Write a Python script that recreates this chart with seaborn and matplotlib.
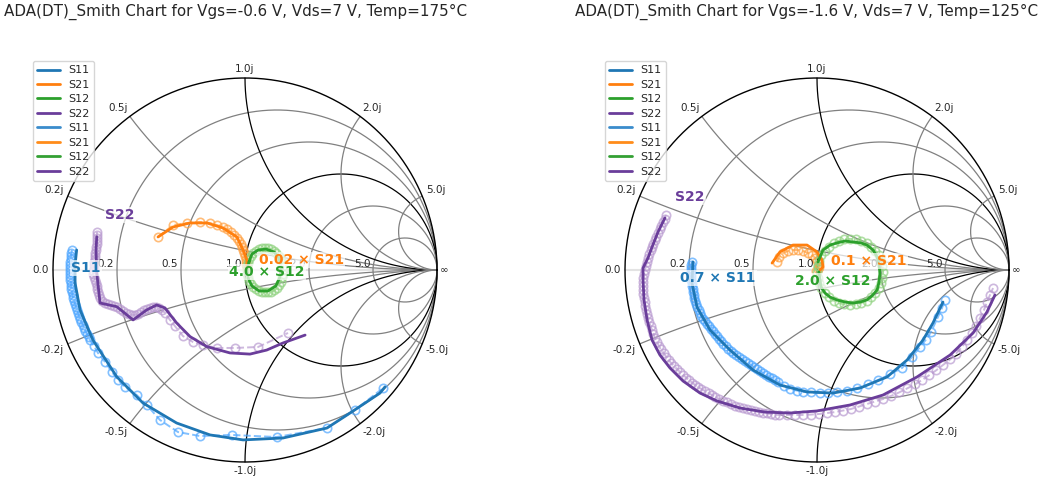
import numpy as np
import matplotlib
matplotlib.use("Agg")
import matplotlib.pyplot as plt
from matplotlib.lines import Line2D
import seaborn as sns

sns.set_style("white")

# smith grid values
r_vals = [0.2, 0.5, 1.0, 2.0, 5.0]
x_vals = [0.2, 0.5, 1.0, 2.0, 5.0]

titles = ["ADA(DT)_Smith Chart for Vgs=-0.6 V, Vds=7 V, Temp=175°C",
          "ADA(DT)_Smith Chart for Vgs=-1.6 V, Vds=7 V, Temp=125°C"]
param_names = ["S11", "S21", "S12", "S22"]

# ---- left chart (Vgs=-0.6 V) ; values as plotted (already scaled) ----
l_s11_mod_re = [-0.877, -0.885, -0.885, -0.859, -0.792, -0.668, -0.531, -0.356, -0.182, -0.010, 0.198, 0.427, 0.547, 0.703, 0.729]
l_s11_mod_im = [0.104, 0.026, -0.068, -0.208, -0.365, -0.556, -0.693, -0.797, -0.859, -0.885, -0.875, -0.823, -0.745, -0.641, -0.609]
l_s11_meas_re = [-0.901, -0.904, -0.906, -0.906, -0.909, -0.909, -0.911, -0.911, -0.911, -0.909, -0.909, -0.906, -0.906, -0.904,
                 -0.901, -0.898, -0.896, -0.891, -0.885, -0.880, -0.875, -0.870, -0.865, -0.859, -0.852, -0.844, -0.839, -0.831,
                 -0.823, -0.815, -0.807, -0.786,
                 -0.766, -0.729, -0.694, -0.661, -0.625, -0.564, -0.512, -0.443, -0.349, -0.234, -0.069, 0.165, 0.426, 0.573, 0.719]
l_s11_meas_im = [0.104, 0.089, 0.073, 0.057, 0.042, 0.026, 0.010, -0.005, -0.021, -0.036, -0.052, -0.068, -0.083, -0.099,
                 -0.115, -0.130, -0.146, -0.161, -0.177, -0.193, -0.208, -0.224, -0.240, -0.255, -0.271, -0.286, -0.302, -0.318,
                 -0.333, -0.349, -0.365, -0.396,
                 -0.432, -0.479, -0.530, -0.573, -0.609, -0.651, -0.703, -0.781, -0.844, -0.865, -0.859, -0.870, -0.823, -0.729, -0.615]

l_s21_mod_re = [-0.453, -0.375, -0.286, -0.198, -0.115, -0.042, -0.010, 0.010, 0.010]
l_s21_mod_im = [0.172, 0.224, 0.245, 0.245, 0.219, 0.172, 0.104, 0.052, 0.0]
l_s21_meas_re = [-0.453, -0.375, -0.302, -0.234, -0.182, -0.146, -0.115, -0.094, -0.073, -0.057, -0.042, -0.031, -0.021, -0.016,
                 -0.010, -0.005, 0.0, 0.005, 0.005, 0.005, 0.010]
l_s21_meas_im = [0.172, 0.234, 0.245, 0.250, 0.245, 0.234, 0.224, 0.214, 0.198, 0.182, 0.167, 0.151, 0.135, 0.120,
                 0.104, 0.089, 0.073, 0.057, 0.042, 0.026, 0.010]

l_s12_mod_re = [0.021, 0.036, 0.068, 0.109, 0.151, 0.177, 0.188, 0.182, 0.161, 0.120, 0.073, 0.036, 0.016, 0.010, 0.021]
l_s12_mod_im = [0.042, 0.083, 0.104, 0.109, 0.094, 0.063, 0.016, -0.036, -0.083, -0.109, -0.109, -0.083, -0.042, 0.0, 0.042]
l_s12_meas_re = [0.010, 0.011, 0.016, 0.023, 0.032, 0.044, 0.057, 0.072, 0.088, 0.104, 0.120, 0.136, 0.151, 0.164, 0.176, 0.185,
                 0.192, 0.197, 0.198, 0.197, 0.192, 0.185, 0.176, 0.166, 0.153, 0.138, 0.120, 0.104, 0.088, 0.072, 0.057,
                 0.044, 0.032, 0.023, 0.016, 0.011]
l_s12_meas_im = [0.000, 0.020, 0.039, 0.058, 0.074, 0.088, 0.100, 0.108, 0.113, 0.115, 0.113, 0.108, 0.100, 0.088, 0.074, 0.058,
                 0.039, 0.020, 0.000, -0.020, -0.039, -0.060, -0.078, -0.094, -0.106, -0.113, -0.116, -0.115, -0.113, -0.108, -0.100,
                 -0.088, -0.074, -0.058, -0.039, -0.020]

l_s22_mod_re = [-0.772, -0.776, -0.772, -0.755, -0.668, -0.583, -0.512, -0.460, -0.417, -0.356, -0.286, -0.199, -0.078, 0.026, 0.113, 0.198, 0.313]
l_s22_mod_im = [0.173, 0.104, -0.016, -0.172, -0.191, -0.260, -0.208, -0.182, -0.198, -0.276, -0.347, -0.399, -0.432, -0.438, -0.417, -0.380, -0.339]
l_s22_meas_re = [-0.771, -0.771, -0.771, -0.771, -0.773, -0.776, -0.776, -0.779, -0.781, -0.781, -0.784, -0.786, -0.789, -0.792,
                 -0.792, -0.786, -0.781, -0.776, -0.773, -0.771, -0.766, -0.760, -0.755, -0.745, -0.729, -0.714, -0.698, -0.682,
                 -0.667, -0.651, -0.635, -0.620, -0.604, -0.589, -0.573, -0.557, -0.542, -0.526, -0.510, -0.495, -0.479, -0.464,
                 -0.448, -0.432,
                 -0.417, -0.391, -0.365, -0.323, -0.271, -0.219, -0.146, -0.052, 0.068, 0.224]
l_s22_meas_im = [0.198, 0.182, 0.167, 0.151, 0.135, 0.120, 0.104, 0.089, 0.073, 0.057, 0.042, 0.026, 0.010, -0.005,
                 -0.021, -0.036, -0.052, -0.068, -0.083, -0.099, -0.115, -0.130, -0.146, -0.161, -0.172, -0.177, -0.182, -0.188,
                 -0.193, -0.203, -0.214, -0.224, -0.229, -0.234, -0.234, -0.229, -0.219, -0.208, -0.203, -0.198, -0.193, -0.193,
                 -0.198, -0.208,
                 -0.224, -0.260, -0.292, -0.344, -0.375, -0.391, -0.406, -0.406, -0.401, -0.328]

# ---- right chart (Vgs=-1.6 V) ----
r_s11_mod_re = [-0.646, -0.651, -0.625, -0.557, -0.453, -0.333, -0.193, -0.052, 0.083, 0.224, 0.365, 0.469, 0.552, 0.604, 0.656]
r_s11_mod_im = [0.042, -0.068, -0.193, -0.313, -0.417, -0.521, -0.599, -0.635, -0.641, -0.615, -0.557, -0.469, -0.365, -0.276, -0.167]
r_s11_meas_re = [-0.651, -0.656, -0.656, -0.656, -0.656, -0.656, -0.654, -0.651, -0.651, -0.648, -0.646, -0.643, -0.641, -0.635,
                 -0.630, -0.625, -0.617, -0.609, -0.602, -0.594, -0.583, -0.573, -0.563, -0.552, -0.542, -0.531, -0.521, -0.510,
                 -0.500, -0.487, -0.474, -0.461, -0.448, -0.435, -0.422, -0.406, -0.391, -0.375, -0.359, -0.344, -0.328, -0.313,
                 -0.297, -0.281, -0.266, -0.250, -0.234, -0.219, -0.203,
                 -0.172, -0.141, -0.104, -0.073, -0.031, 0.016, 0.057, 0.104, 0.156, 0.208, 0.266, 0.318, 0.380, 0.443, 0.495,
                 0.536, 0.568, 0.594, 0.630, 0.651, 0.667]
r_s11_meas_im = [0.042, 0.026, 0.010, -0.005, -0.021, -0.036, -0.052, -0.068, -0.083, -0.099, -0.115, -0.130, -0.146, -0.161,
                 -0.177, -0.193, -0.208, -0.224, -0.240, -0.253, -0.266, -0.279, -0.292, -0.305, -0.318, -0.331, -0.344, -0.357,
                 -0.370, -0.383, -0.396, -0.409, -0.422, -0.432, -0.443, -0.453, -0.464, -0.474, -0.484, -0.495, -0.505, -0.516,
                 -0.526, -0.536, -0.547, -0.557, -0.565, -0.573, -0.581,
                 -0.602, -0.620, -0.628, -0.635, -0.638, -0.641, -0.641, -0.635, -0.628, -0.615, -0.596, -0.573, -0.544, -0.510, -0.453,
                 -0.401, -0.362, -0.323, -0.245, -0.198, -0.156]

r_s21_mod_re = [-0.234, -0.193, -0.125, -0.052, 0.0, 0.026, 0.031, 0.016]
r_s21_mod_im = [0.036, 0.094, 0.130, 0.130, 0.094, 0.052, 0.016, 0.0]
r_s21_meas_re = [-0.208, -0.198, -0.177, -0.151, -0.125, -0.099, -0.073, -0.047, -0.026, -0.010, 0.0, 0.010, 0.010, 0.005, -0.005]
r_s21_meas_im = [0.042, 0.068, 0.089, 0.099, 0.104, 0.104, 0.099, 0.089, 0.078, 0.063, 0.047, 0.031, 0.016, 0.005, -0.005]

r_s12_mod_re = [0.005, 0.031, 0.068, 0.104, 0.146, 0.188, 0.229, 0.260, 0.292, 0.313, 0.323, 0.328, 0.323, 0.313, 0.286, 0.260,
                0.224, 0.188, 0.146, 0.104, 0.068, 0.042, 0.021, 0.016, 0.010]
r_s12_mod_im = [0.042, 0.104, 0.130, 0.141, 0.151, 0.146, 0.141, 0.130, 0.104, 0.068, 0.026, -0.016, -0.063, -0.104, -0.135, -0.156,
                -0.167, -0.172, -0.167, -0.156, -0.141, -0.120, -0.089, -0.052, -0.010]
r_s12_meas_re = [0.003, 0.010, 0.023, 0.040, 0.061, 0.086, 0.113, 0.142, 0.172, 0.202, 0.231, 0.258, 0.283, 0.304, 0.321, 0.334,
                 0.341, 0.344, 0.341, 0.334, 0.321, 0.304, 0.283, 0.258, 0.231, 0.202, 0.172, 0.142, 0.113, 0.086, 0.061,
                 0.040, 0.023, 0.010, 0.003, 0.0, 0.003]
r_s12_meas_im = [0.020, 0.049, 0.076, 0.101, 0.122, 0.139, 0.152, 0.159, 0.162, 0.159, 0.152, 0.139, 0.122, 0.101, 0.076, 0.049,
                 0.020, -0.010, -0.040, -0.069, -0.096, -0.121, -0.142, -0.159, -0.172, -0.179, -0.182, -0.179, -0.172, -0.159, -0.142,
                 -0.121, -0.096, -0.069, -0.040, -0.010, 0.020]

r_s22_mod_re = [-0.792, -0.828, -0.859, -0.880, -0.896, -0.906, -0.906, -0.901, -0.885, -0.859, -0.818, -0.766, -0.698, -0.609,
                -0.521, -0.401, -0.271, -0.141, 0.0, 0.172, 0.344, 0.521, 0.693, 0.813, 0.885, 0.927]
r_s22_mod_im = [0.271, 0.198, 0.120, 0.063, 0.031, 0.010, -0.052, -0.156, -0.260, -0.365, -0.443, -0.510, -0.578, -0.641,
                -0.682, -0.719, -0.740, -0.745, -0.734, -0.703, -0.651, -0.557, -0.443, -0.328, -0.219, -0.130]
r_s22_meas_re = [-0.786, -0.794, -0.802, -0.813, -0.820, -0.828, -0.836, -0.844, -0.852, -0.859,
                 -0.867, -0.875, -0.880, -0.885, -0.891, -0.896, -0.901, -0.904, -0.906, -0.906,
                 -0.906, -0.904, -0.901, -0.898, -0.896, -0.891, -0.885, -0.880, -0.875, -0.867,
                 -0.859, -0.852, -0.844, -0.833, -0.823, -0.813, -0.799, -0.786, -0.773, -0.760,
                 -0.745, -0.729, -0.714, -0.698, -0.682, -0.667, -0.651, -0.635, -0.620, -0.602,
                 -0.583, -0.565, -0.547, -0.529, -0.510, -0.490, -0.469, -0.448, -0.427, -0.406,
                 -0.385, -0.365, -0.344, -0.323, -0.302, -0.281, -0.260, -0.240, -0.219, -0.198,
                 -0.156, -0.115, -0.073, -0.031, 0.010, 0.052, 0.094, 0.135, 0.177, 0.219,
                 0.260, 0.302, 0.344, 0.385, 0.427, 0.469, 0.510, 0.547, 0.583, 0.620,
                 0.656, 0.693, 0.724, 0.755, 0.781, 0.807, 0.828, 0.849, 0.870, 0.885, 0.901, 0.917]
r_s22_meas_im = [0.286, 0.268, 0.250, 0.229, 0.211, 0.193, 0.174, 0.156, 0.138, 0.120,
                 0.102, 0.083, 0.063, 0.042, 0.021, 0.0, -0.021, -0.042, -0.063, -0.083,
                 -0.104, -0.125, -0.146, -0.167, -0.188, -0.208, -0.229, -0.250, -0.271, -0.292,
                 -0.313, -0.333, -0.354, -0.375, -0.396, -0.414, -0.432, -0.451, -0.469, -0.484,
                 -0.500, -0.516, -0.531, -0.547, -0.560, -0.573, -0.586, -0.599, -0.609, -0.620,
                 -0.630, -0.641, -0.651, -0.661, -0.672, -0.682, -0.690, -0.698, -0.706, -0.714,
                 -0.719, -0.724, -0.729, -0.734, -0.740, -0.745, -0.747, -0.750, -0.753, -0.755,
                 -0.755, -0.755, -0.755, -0.753, -0.750, -0.745, -0.740, -0.732, -0.724, -0.711,
                 -0.698, -0.685, -0.672, -0.656, -0.638, -0.617, -0.596, -0.573, -0.549, -0.523,
                 -0.495, -0.466, -0.435, -0.401, -0.365, -0.328, -0.292, -0.250, -0.208, -0.167, -0.130, -0.094]

# trace labels: text and where it sits on the chart
l_labels = [("S11", -0.828, 0.010), ("0.02 × S21", 0.292, 0.052), ("4.0 × S12", 0.115, -0.010), ("S22", -0.651, 0.286)]
r_labels = [("0.7 × S11", -0.516, -0.042), ("0.1 × S21", 0.271, 0.047), ("2.0 × S12", 0.083, -0.057), ("S22", -0.661, 0.380)]

model_cols = ["#1f77b4", "#ff7f0e", "#2ca02c", "#6a3d9a"]
meas_cols = ["#4da6ff", "#ffa040", "#8fd27f", "#b99ad0"]
legend_cols2 = ["#3a8ccc", "#ff8c1a", "#33a033", "#6a3d9a"]


def draw_grid(ax):
    t = np.linspace(0, 2 * np.pi, 500)
    ax.plot([-1, 1], [0, 0], color="#e3e3e3", lw=1.5, zorder=0)
    for r in r_vals:
        c, rad = r / (1 + r), 1 / (1 + r)
        ax.plot(c + rad * np.cos(t), rad * np.sin(t), color="black" if r == 1 else "gray", lw=0.9, zorder=1)
    rr = np.concatenate([[0], np.logspace(-3, 4, 800)])
    for x in x_vals:
        for s in (1, -1):
            g = (rr + 1j * s * x - 1) / (rr + 1j * s * x + 1)
            ax.plot(g.real, g.imag, color="black" if x == 1 else "gray", lw=0.9, zorder=1)
    ax.plot(np.cos(t), np.sin(t), color="black", lw=1, zorder=1)
    # labels on the real axis
    for r in r_vals:
        g = (r - 1) / (r + 1)
        ax.annotate(f"{r:.1f}", (g, 0), xytext=(-2, 0.5), textcoords="offset points",
                    ha="right", va="bottom", fontsize=7.5)
    ax.annotate("0.0", (-1, 0), xytext=(-3, 0), textcoords="offset points", ha="right", va="center", fontsize=7.5)
    ax.annotate("∞", (1, 0), xytext=(2, 0), textcoords="offset points", ha="left", va="center", fontsize=7.5)
    # labels on the rim
    for x in x_vals:
        for s in (1, -1):
            g = (1j * s * x - 1) / (1j * s * x + 1) * 1.02
            ha = "center" if abs(g.real) < 0.05 else ("left" if g.real > 0 else "right")
            va = "bottom" if s > 0 else "top"
            ax.text(g.real, g.imag, f"{s * x:.1f}j", ha=ha, va=va, fontsize=7.5)


def draw_trace(ax, mre, mim, re, im, col, lcol):
    sns.lineplot(x=mre, y=mim, sort=False, estimator=None, color=lcol, linestyle="--", lw=1.4,
                 marker="o", markersize=6, markerfacecolor="none", markeredgecolor=lcol,
                 markeredgewidth=1.2, alpha=0.7, ax=ax, zorder=2)
    sns.lineplot(x=re, y=im, sort=False, estimator=None, color=col, lw=2, ax=ax, zorder=3)


fig = plt.figure(figsize=(10.42, 4.79), dpi=100)
W, H = 1042, 479
R = 192
centers = [245, 817]

charts = [
    [(l_s11_meas_re, l_s11_meas_im, l_s11_mod_re, l_s11_mod_im),
     (l_s21_meas_re, l_s21_meas_im, l_s21_mod_re, l_s21_mod_im),
     (l_s12_meas_re, l_s12_meas_im, l_s12_mod_re, l_s12_mod_im),
     (l_s22_meas_re, l_s22_meas_im, l_s22_mod_re, l_s22_mod_im)],
    [(r_s11_meas_re, r_s11_meas_im, r_s11_mod_re, r_s11_mod_im),
     (r_s21_meas_re, r_s21_meas_im, r_s21_mod_re, r_s21_mod_im),
     (r_s12_meas_re, r_s12_meas_im, r_s12_mod_re, r_s12_mod_im),
     (r_s22_meas_re, r_s22_meas_im, r_s22_mod_re, r_s22_mod_im)],
]
labels = [l_labels, r_labels]
title_x = [236, 807]

for k in range(2):
    cx = centers[k]
    x0, x1 = -1.25, 1.25
    y0, y1 = -1.08, 1.25
    ax = fig.add_axes([(cx + x0 * R) / W, (H - 270 + y0 * R) / H, (x1 - x0) * R / W, (y1 - y0) * R / H])
    ax.set_xlim(x0, x1)
    ax.set_ylim(y0, y1)
    ax.axis("off")
    draw_grid(ax)
    for i, (mre, mim, re, im) in enumerate(charts[k]):
        draw_trace(ax, mre, mim, re, im, model_cols[i], meas_cols[i])
    for i, (txt, tx, ty) in enumerate(labels[k]):
        ax.text(tx, ty, txt, color=model_cols[i], fontsize=10, fontweight="bold", ha="center", va="center",
                zorder=6, bbox=dict(facecolor="white", alpha=0.7, edgecolor="none", pad=1))
    handles = [Line2D([], [], color=c, lw=2) for c in model_cols] + [Line2D([], [], color=c, lw=2) for c in legend_cols2]
    ax.legend(handles, param_names * 2, loc="upper left", fontsize=8, labelspacing=0.4,
              bbox_to_anchor=((cx - 212) / W, 1 - 61 / H), bbox_transform=fig.transFigure, borderaxespad=0)
    fig.text(title_x[k] / W, 1 - 12 / H, titles[k], ha="center", va="center", fontsize=10.9)

fig.savefig("out.png", dpi=100)
